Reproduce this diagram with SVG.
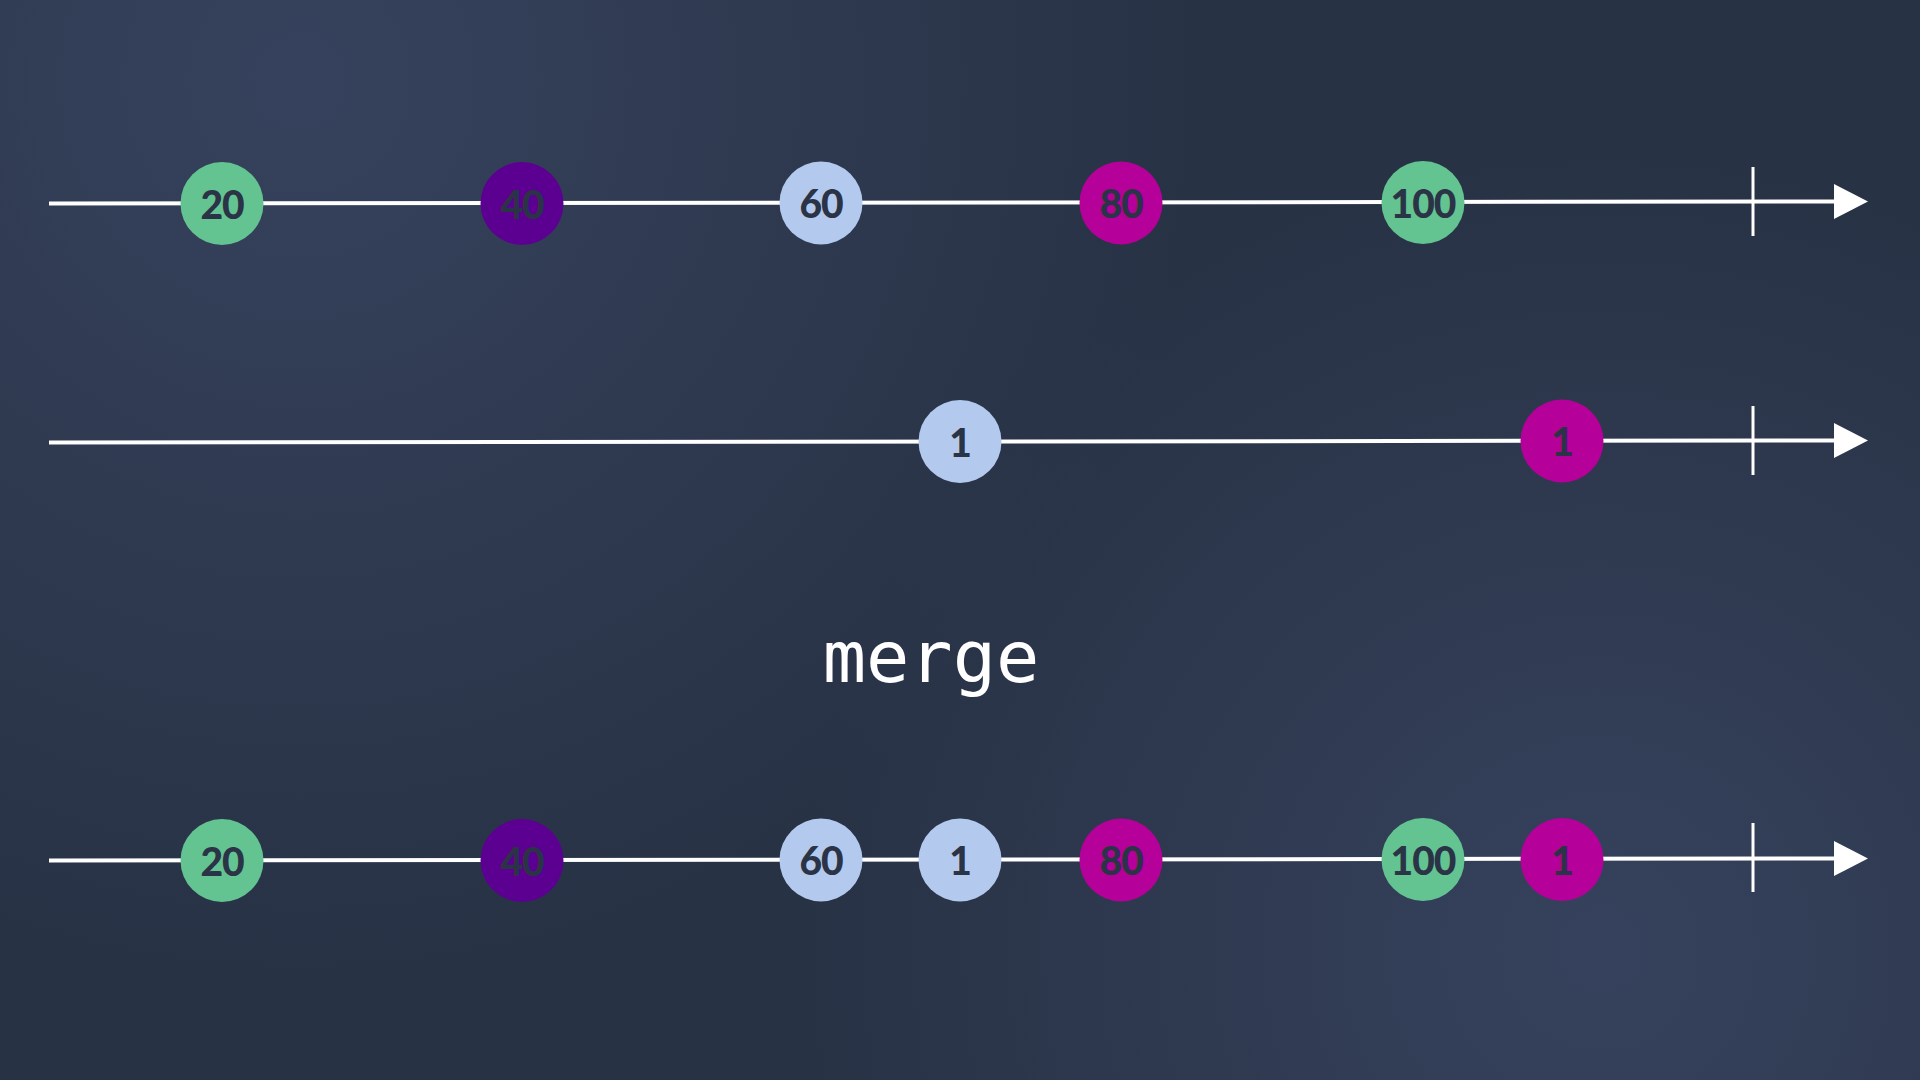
<svg xmlns="http://www.w3.org/2000/svg" width="1920" height="1080" viewBox="0 0 1920 1080">
<defs>
<radialGradient id="g1" cx="300" cy="80" r="900" gradientUnits="userSpaceOnUse">
<stop offset="0" stop-color="#36425d"/>
<stop offset="1" stop-color="#36425d" stop-opacity="0"/>
</radialGradient>
<radialGradient id="g2" cx="1600" cy="950" r="800" gradientUnits="userSpaceOnUse">
<stop offset="0" stop-color="#36425d"/>
<stop offset="1" stop-color="#36425d" stop-opacity="0"/>
</radialGradient>
<marker id="arr" markerUnits="userSpaceOnUse" markerWidth="34" markerHeight="35" viewBox="0 0 34 35" refX="0" refY="17.5" orient="auto">
<path d="M0,0 L34,17.5 L0,35 Z" fill="#ffffff"/>
</marker>
<style>
.line{stroke:#ffffff;stroke-width:4;fill:none}
.tick{stroke:#ffffff;stroke-width:3;fill:none}
.lbl{font-family:Lato,"Liberation Sans",sans-serif;font-weight:900;font-size:39px;fill:#2b3447;text-anchor:middle;letter-spacing:-1px}
.green{fill:#63c492}
.purple{fill:#5c0092}
.blue{fill:#b3caee}
.mag{fill:#b5009a}
.title{font-family:"DejaVu Sans Mono","Liberation Mono",monospace;font-size:72px;fill:#ffffff;text-anchor:middle}
</style>
</defs>
<rect width="1920" height="1080" fill="#283245"/>
<rect width="1920" height="1080" fill="url(#g1)"/>
<rect width="1920" height="1080" fill="url(#g2)"/>
<g id="connectors">
<path class="line" d="M49,203.5 L1834,201.5" marker-end="url(#arr)"/>
<line class="tick" x1="1753" y1="167" x2="1753" y2="236"/>
<path class="line" d="M49,442.5 L1834,440.5" marker-end="url(#arr)"/>
<line class="tick" x1="1753" y1="406" x2="1753" y2="475"/>
<path class="line" d="M49,860.5 L1834,858.5" marker-end="url(#arr)"/>
<line class="tick" x1="1753" y1="823" x2="1753" y2="892"/>
</g>
<g id="a20"><circle class="green" cx="222" cy="203.5" r="41.5"/><text class="lbl" x="222" y="218.5">20</text></g>
<g id="a40"><circle class="purple" cx="522" cy="203.5" r="41.5"/><text class="lbl" x="522" y="218.5">40</text></g>
<g id="a60"><circle class="blue" cx="821" cy="203" r="41.5"/><text class="lbl" x="821" y="218">60</text></g>
<g id="a80"><circle class="mag" cx="1121" cy="203" r="41.5"/><text class="lbl" x="1121" y="218">80</text></g>
<g id="a100"><circle class="green" cx="1423" cy="202.5" r="41.5"/><text class="lbl" x="1423" y="217.5">100</text></g>
<g id="b1"><circle class="blue" cx="960" cy="441.5" r="41.5"/><text class="lbl" x="960" y="456.5">1</text></g>
<g id="b2"><circle class="mag" cx="1562" cy="441" r="41.5"/><text class="lbl" x="1562" y="456">1</text></g>
<g id="op"><text class="title" x="931" y="682">merge</text></g>
<g id="c20"><circle class="green" cx="222" cy="860.5" r="41.5"/><text class="lbl" x="222" y="875.5">20</text></g>
<g id="c40"><circle class="purple" cx="522" cy="860.5" r="41.5"/><text class="lbl" x="522" y="875.5">40</text></g>
<g id="c60"><circle class="blue" cx="821" cy="860" r="41.5"/><text class="lbl" x="821" y="875">60</text></g>
<g id="c1a"><circle class="blue" cx="960" cy="860" r="41.5"/><text class="lbl" x="960" y="875">1</text></g>
<g id="c80"><circle class="mag" cx="1121" cy="860" r="41.5"/><text class="lbl" x="1121" y="875">80</text></g>
<g id="c100"><circle class="green" cx="1423" cy="859.5" r="41.5"/><text class="lbl" x="1423" y="874.5">100</text></g>
<g id="c1b"><circle class="mag" cx="1562" cy="859.5" r="41.5"/><text class="lbl" x="1562" y="874.5">1</text></g>
</svg>
